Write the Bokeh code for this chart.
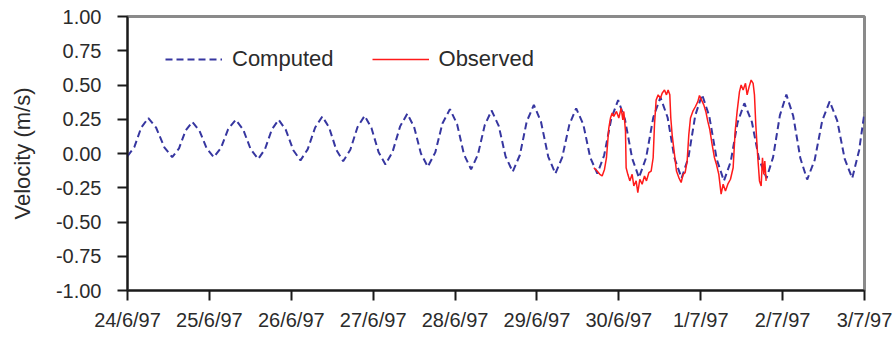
from bokeh.plotting import figure
from bokeh.embed import file_html
from bokeh.resources import INLINE
from bokeh.models import FixedTicker, Legend

# ---- data (hours since 24/6/97 00:00) ----
tick_hours = [0, 24, 48, 72, 96, 120, 144, 168, 192, 216]
tick_labels = ["24/6/97", "25/6/97", "26/6/97", "27/6/97", "28/6/97", "29/6/97",
               "30/6/97", "1/7/97", "2/7/97", "3/7/97"]
y_ticks = [-1.0, -0.75, -0.5, -0.25, 0.0, 0.25, 0.5, 0.75, 1.0]
y_tick_labels = ["-1.00", "-0.75", "-0.50", "-0.25", "0.00", "0.25", "0.50", "0.75", "1.00"]

comp_t = [0, 2.0, 4.0, 6.1, 8.4, 10.8, 13.1, 15.1, 17.0, 19.0, 21.1, 23.2, 25.3, 27.4, 29.5,
          31.7, 33.9, 36.1, 38.3, 40.3, 42.3, 44.3, 46.4, 48.6, 50.7, 52.8, 55.0, 57.1, 59.1,
          61.2, 63.2, 65.3, 67.4, 69.5, 71.5, 73.6, 75.6, 77.7, 79.9, 82.0, 84.0, 86.0, 88.0,
          90.2, 92.3, 94.5, 96.6, 98.6, 100.7, 102.7, 104.7, 106.7, 108.8, 110.8, 112.9, 115.0,
          117.0, 119.1, 121.2, 123.3, 125.4, 127.4, 129.5, 131.5, 133.6, 135.6, 137.7, 139.7,
          141.8, 143.8, 145.8, 147.9, 149.9, 152.0, 154.1, 156.2, 158.3, 160.3, 162.4, 164.4,
          166.4, 168.4, 170.5, 172.7, 174.8, 176.8, 178.8, 180.8, 183.0, 185.1, 187.3, 189.2,
          191.2, 193.1, 195.1, 197.2, 199.2, 201.4, 203.6, 205.8, 208.0, 210.2, 212.4, 214.4,
          216.0]
comp_v = [-0.02, 0.046, 0.188, 0.259, 0.188, 0.045, -0.027, 0.037, 0.166, 0.23, 0.166, 0.037,
          -0.027, 0.041, 0.178, 0.246, 0.175, 0.031, -0.04, 0.032, 0.175, 0.246, 0.172, 0.024,
          -0.05, 0.03, 0.19, 0.27, 0.189, 0.026, -0.056, 0.027, 0.192, 0.275, 0.186, 0.009,
          -0.08, 0.013, 0.198, 0.29, 0.193, 0.0, -0.097, 0.008, 0.219, 0.324, 0.214, -0.006,
          -0.116, -0.008, 0.207, 0.314, 0.202, -0.021, -0.133, -0.011, 0.233, 0.355, 0.23,
          -0.022, -0.147, -0.028, 0.211, 0.33, 0.211, -0.028, -0.147, -0.013, 0.256, 0.39,
          0.249, -0.035, -0.176, -0.03, 0.264, 0.41, 0.263, -0.033, -0.18, -0.028, 0.278, 0.43,
          0.273, -0.043, -0.2, -0.058, 0.225, 0.367, 0.23, -0.043, -0.18, -0.028, 0.278, 0.43,
          0.275, -0.035, -0.19, -0.048, 0.238, 0.38, 0.24, -0.04, -0.18, 0.02, 0.30]

obs_t = [136.67, 137.64, 138.43, 139.11, 139.79, 140.38, 141.06, 141.55, 142.04, 142.53,
         143.31, 143.99, 144.68, 145.17, 145.46, 145.95, 146.14, 146.63, 147.22, 147.9,
         148.39, 149.07, 149.56, 150.15, 150.83, 151.52, 152.10, 152.79, 153.47, 154.06,
         154.45, 154.93, 155.52, 156.2, 156.69, 157.38, 157.96, 158.45, 158.94, 159.23,
         159.62, 160.31, 160.89, 161.58, 162.26, 162.85, 163.43, 164.02, 164.51, 165.0,
         165.68, 166.46, 167.15, 167.63, 168.22, 168.90, 169.49, 170.08, 170.66, 171.35,
         172.03, 172.62, 173.30, 173.98, 174.57, 175.25, 175.94, 176.72, 177.5, 178.09,
         178.67, 179.36, 179.85, 180.43, 181.12, 181.60, 182.19, 182.78, 183.36, 183.75,
         184.14, 184.73, 185.22, 185.71, 186.1, 186.49, 186.78, 187.17]
obs_v = [-0.104, -0.128, -0.152, -0.164, -0.116, -0.031, 0.186, 0.259, 0.295, 0.271,
         0.307, 0.259, 0.331, 0.246, 0.307, 0.162, -0.104, -0.152, -0.2, -0.152,
         -0.237, -0.2, -0.285, -0.188, -0.224, -0.164, -0.2, -0.140, -0.128, -0.031,
         0.210, 0.391, 0.428, 0.403, 0.440, 0.464, 0.428, 0.464, 0.428, 0.259,
         0.138, -0.007, -0.128, -0.176, -0.212, -0.152, -0.140, -0.055, 0.138, 0.259,
         0.307, 0.343, 0.379, 0.423, 0.391, 0.355, 0.307, 0.234, 0.174, 0.065,
         -0.031, -0.08, -0.152, -0.297, -0.224, -0.273, -0.224, -0.188, -0.104, 0.162,
         0.307, 0.452, 0.500, 0.464, 0.512, 0.428, 0.488, 0.536, 0.512, 0.428,
         0.210, -0.031, -0.2, -0.237, -0.031, -0.152, -0.055, -0.2]

assert len(comp_t) == len(comp_v), (len(comp_t), len(comp_v))
assert len(obs_t) == len(obs_v), (len(obs_t), len(obs_v))

FONT = "Liberation Sans"
TXT = "#2b2b2b"

p = figure(width=893, height=340, output_backend="svg", toolbar_location=None,
           x_range=(0, 216), y_range=(-1, 1),
           min_border_left=127, min_border_right=29, min_border_top=16, min_border_bottom=50)
p.background_fill_color = "white"
p.border_fill_color = "white"
p.grid.visible = False
p.outline_line_color = "#8a8a8a"
p.outline_line_width = 3

rc = p.line(comp_t, comp_v, line_color="#3636a0", line_width=2, line_dash="7 4")
ro = p.line(obs_t, obs_v, line_color="#ff1a1a", line_width=1.5)

legend = Legend(items=[("Computed", [rc]), ("Observed", [ro])],
                orientation="horizontal", location=(38, 218),
                border_line_color=None, background_fill_alpha=0,
                label_text_font=FONT, label_text_font_size="22px", label_text_color=TXT,
                glyph_width=57, glyph_height=22, label_height=22, spacing=38,
                label_standoff=10, padding=0, margin=0)
p.add_layout(legend, "center")

xa = p.xaxis[0]
xa.ticker = FixedTicker(ticks=tick_hours)
xa.major_label_overrides = {t: l for t, l in zip(tick_hours, tick_labels)}
ya = p.yaxis[0]
ya.ticker = FixedTicker(ticks=y_ticks)
ya.major_label_overrides = {t: l for t, l in zip(y_ticks, y_tick_labels)}
ya.axis_label = "Velocity (m/s)"
ya.axis_label_text_font = FONT
ya.axis_label_text_font_size = "22px"
ya.axis_label_text_font_style = "normal"
ya.axis_label_text_color = TXT
ya.axis_label_standoff = 18

for ax in (xa, ya):
    ax.axis_line_color = "#1a1a1a"
    ax.axis_line_width = 2
    ax.major_tick_line_color = "#1a1a1a"
    ax.major_tick_line_width = 2
    ax.major_tick_in = 0
    ax.major_tick_out = 10
    ax.minor_tick_line_color = None
    ax.major_label_text_font = FONT
    ax.major_label_text_font_size = "20px"
    ax.major_label_text_color = TXT
xa.major_label_standoff = 8
ya.major_label_standoff = 16

open("out.html", "w").write(file_html(p, INLINE))
